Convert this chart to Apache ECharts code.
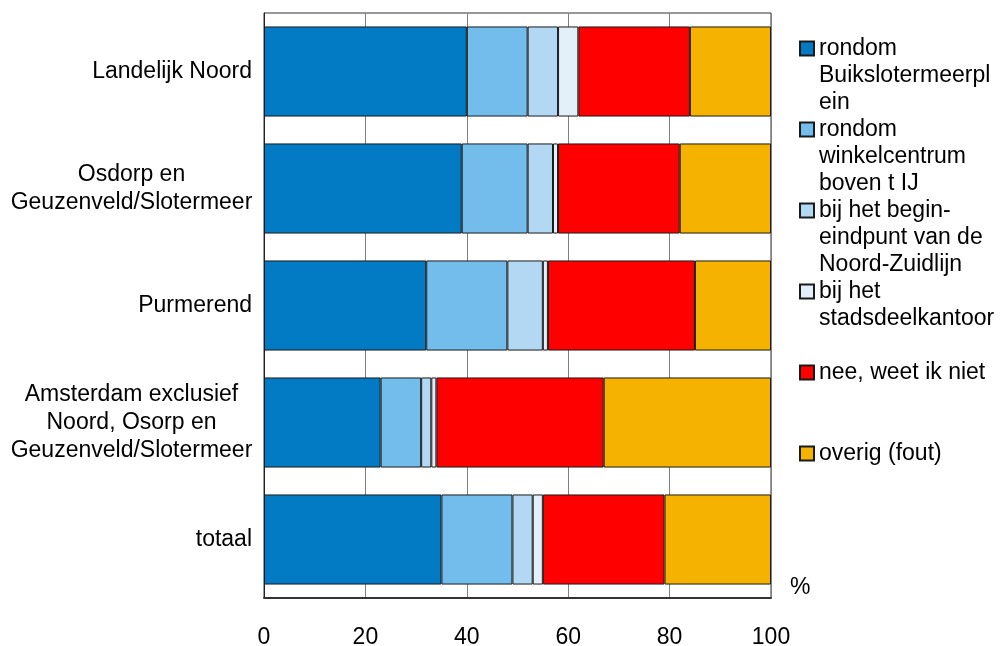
<!DOCTYPE html>
<html>
<head>
<meta charset="utf-8">
<script src="https://cdn.jsdelivr.net/npm/echarts@6/dist/echarts.min.js"></script>
<style>html,body{margin:0;padding:0;background:#fff}#c{width:1001px;height:646px}</style>
</head>
<body>
<div id="c"></div>
<script>
var categories = ['Landelijk Noord', 'Osdorp en\nGeuzenveld/Slotermeer', 'Purmerend', 'Amsterdam exclusief\nNoord, Osorp en\nGeuzenveld/Slotermeer', 'totaal'];
var seriesNames = ['rondom Buikslotermeerplein', 'rondom winkelcentrum boven t IJ', 'bij het begin-eindpunt van de Noord-Zuidlijn', 'bij het stadsdeelkantoor', 'nee, weet ik niet', 'overig (fout)'];
var legendLabels = ['rondom\nBuikslotermeerpl\nein', 'rondom\nwinkelcentrum\nboven t IJ', 'bij het begin-\neindpunt van de\nNoord-Zuidlijn', 'bij het\nstadsdeelkantoor', 'nee, weet ik niet', 'overig (fout)'];
var buikslotermeerplein = [40, 39, 32, 23, 35];
var winkelcentrum = [12, 13, 16, 8, 14];
var beginEindpunt = [6, 5, 7, 2, 4];
var stadsdeelkantoor = [4, 1, 1, 1, 2];
var neeWeetIkNiet = [22, 24, 29, 33, 24];
var overig = [16, 18, 15, 33, 21];
var xTicks = [0, 20, 40, 60, 80, 100];

var seriesValues = [buikslotermeerplein, winkelcentrum, beginEindpunt, stadsdeelkantoor, neeWeetIkNiet, overig];
var colors = ['#037BC4', '#73BDED', '#B3D8F4', '#E3F0FA', '#FF0000', '#F5B300'];
var FONT = '"Liberation Sans", Arial, sans-serif';

var legendCenters = [48.5, 129.5, 210.5, 291.5, 372.5, 453.5];
var legends = seriesNames.map(function (name, i) {
  var lbl = legendLabels[i];
  var n = lbl.split('\n').length;
  var pad = '';
  for (var k = 0; k < n - 1; k++) pad += '\n';
  var h = (2 * n - 1) * 27;
  return {
    data: [{ name: name, icon: 'rect' }],
    left: 799,
    top: legendCenters[i] - h / 2,
    padding: 0,
    orient: 'vertical',
    itemWidth: 14,
    itemHeight: 14,
    selectedMode: false,
    formatter: function () { return pad + lbl; },
    textStyle: { fontFamily: FONT, fontSize: 23, lineHeight: 27, color: '#000' }
  };
});

var series = seriesNames.map(function (name, i) {
  return {
    name: name,
    type: 'bar',
    stack: 'total',
    barCategoryGap: '23%',
    data: seriesValues[i],
    itemStyle: { color: colors[i], borderColor: '#1a1a1a', borderWidth: 1 },
    emphasis: { disabled: true }
  };
});

var chart = echarts.init(document.getElementById('c'), null, { renderer: 'canvas' });
chart.setOption({
  animation: false,
  backgroundColor: '#fff',
  grid: { left: 264, right: 230, top: 13, bottom: 48, outerBoundsMode: 'none', containLabel: false, show: true, borderColor: '#333', borderWidth: 1, backgroundColor: 'transparent' },
  legend: legends,
  xAxis: {
    type: 'value',
    min: xTicks[0],
    max: xTicks[xTicks.length - 1],
    interval: 20,
    name: '%',
    nameLocation: 'end',
    nameGap: 19,
    nameTextStyle: { fontFamily: FONT, fontSize: 23, color: '#000', verticalAlign: 'bottom', lineHeight: 20 },
    axisLine: { show: true, lineStyle: { color: '#333', width: 2 } },
    axisTick: { show: false },
    axisLabel: { fontFamily: FONT, fontSize: 23, lineHeight: 26, color: '#000', margin: 27 },
    splitLine: { show: true, lineStyle: { color: '#808080', width: 1 } }
  },
  yAxis: {
    type: 'category',
    inverse: true,
    data: categories,
    axisLine: { show: true, lineStyle: { color: '#222', width: 1 } },
    axisTick: { show: false },
    splitLine: { show: false },
    axisLabel: {
      fontFamily: FONT, fontSize: 23, lineHeight: 28, color: '#000', margin: 12,
      formatter: function (v) {
        if (v.indexOf('\n') < 0) return v;
        return v.split('\n').map(function (s) { return '{c|' + s + '}'; }).join('\n');
      },
      rich: { c: { width: 241, align: 'center', fontFamily: FONT, fontSize: 23, lineHeight: 28, color: '#000' } }
    }
  },
  series: series
});
</script>
</body>
</html>
